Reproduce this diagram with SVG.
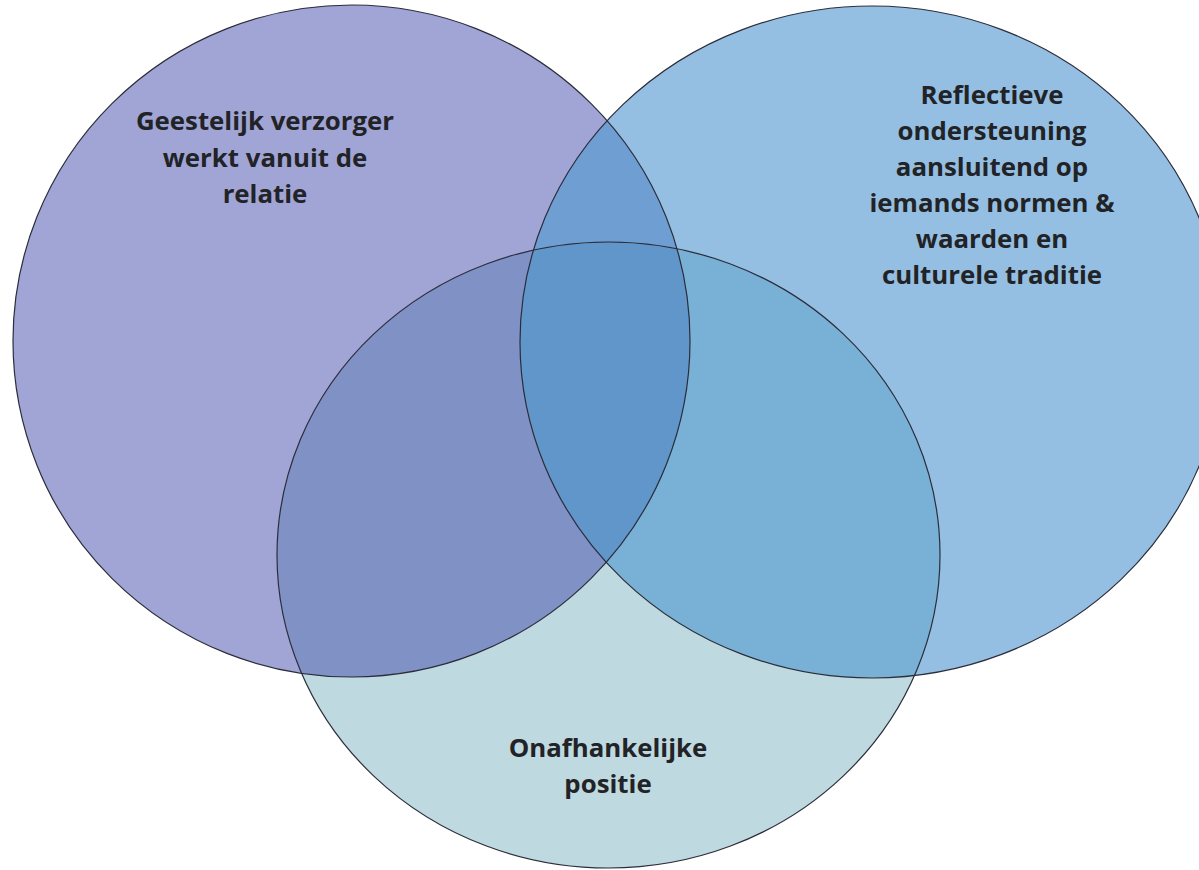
<svg xmlns="http://www.w3.org/2000/svg" width="1199" height="870" viewBox="0 0 1199 870">
<style>
.lbl{font-family:"Open Sans","Noto Sans","Liberation Sans",sans-serif;font-weight:700;font-size:25.8px;fill:#222326;text-anchor:middle}
.edge{fill:none;stroke:#2b2d3a;stroke-width:1.2}
</style>
<defs>
<clipPath id="cL"><ellipse cx="351.5" cy="341" rx="338.5" ry="336"/></clipPath>
<clipPath id="cR"><ellipse cx="872" cy="342" rx="352" ry="336"/></clipPath>
<clipPath id="cB"><ellipse cx="608.5" cy="555" rx="331.5" ry="313"/></clipPath>
</defs>
<rect width="1199" height="870" fill="#ffffff"/>
<g id="fills">
<ellipse cx="351.5" cy="341" rx="338.5" ry="336" fill="#a0a5d6"/>
<ellipse cx="872" cy="342" rx="352" ry="336" fill="#94bfe2"/>
<ellipse cx="608.5" cy="555" rx="331.5" ry="313" fill="#bfd9e0"/>
<ellipse cx="608.5" cy="555" rx="331.5" ry="313" fill="#8091c6" clip-path="url(#cL)"/>
<ellipse cx="608.5" cy="555" rx="331.5" ry="313" fill="#79b0d6" clip-path="url(#cR)"/>
<ellipse cx="872" cy="342" rx="352" ry="336" fill="#6f9ed3" clip-path="url(#cL)"/>
<g clip-path="url(#cL)"><ellipse cx="608.5" cy="555" rx="331.5" ry="313" fill="#6196cb" clip-path="url(#cR)"/></g>
</g>
<g id="node-left">
<ellipse class="edge" cx="351.5" cy="341" rx="338.5" ry="336"/>
<text class="lbl" x="265" y="130">Geestelijk verzorger</text>
<text class="lbl" x="265" y="166.5">werkt vanuit de</text>
<text class="lbl" x="265" y="203">relatie</text>
</g>
<g id="node-right">
<ellipse class="edge" cx="872" cy="342" rx="352" ry="336"/>
<text class="lbl" x="992" y="104">Reflectieve</text>
<text class="lbl" x="992" y="140">ondersteuning</text>
<text class="lbl" x="992" y="176">aansluitend op</text>
<text class="lbl" x="992" y="212">iemands normen &amp;</text>
<text class="lbl" x="992" y="248">waarden en</text>
<text class="lbl" x="992" y="284">culturele traditie</text>
</g>
<g id="node-bottom">
<ellipse class="edge" cx="608.5" cy="555" rx="331.5" ry="313"/>
<text class="lbl" x="608" y="757">Onafhankelijke</text>
<text class="lbl" x="608" y="793">positie</text>
</g>
<g id="connectors"/>
</svg>
